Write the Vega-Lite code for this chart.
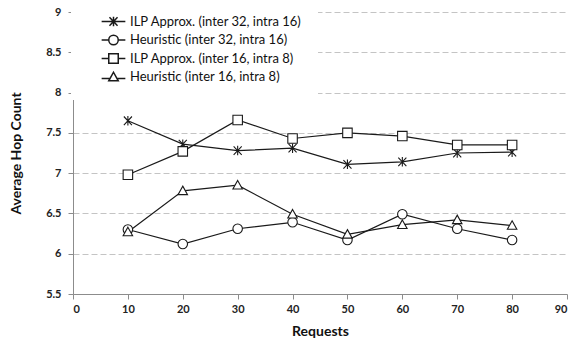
{
  "$schema": "https://vega.github.io/schema/vega-lite/v6.json",
  "width": 494,
  "height": 282,
  "autosize": {"type": "none"},
  "padding": {"left": 73, "top": 12, "right": 11, "bottom": 52},
  "background": "white",
  "config": {
    "font": "Lato",
    "view": {"stroke": null},
    "axis": {
      "domainColor": "#8c8c8c",
      "tickColor": "#8c8c8c",
      "labelFont": "Lato",
      "labelFontWeight": "bold",
      "labelFontSize": 11,
      "labelColor": "#222222",
      "titleFont": "Lato",
      "titleFontWeight": "bold",
      "titleFontSize": 14,
      "titleColor": "#111111",
      "tickSize": 5
    }
  },
  "data": {
    "values": [
      {"series": "ILP Approx. (inter 32, intra 16)", "requests": 10, "hops": 7.65},
      {"series": "ILP Approx. (inter 32, intra 16)", "requests": 20, "hops": 7.36},
      {"series": "ILP Approx. (inter 32, intra 16)", "requests": 30, "hops": 7.28},
      {"series": "ILP Approx. (inter 32, intra 16)", "requests": 40, "hops": 7.31},
      {"series": "ILP Approx. (inter 32, intra 16)", "requests": 50, "hops": 7.11},
      {"series": "ILP Approx. (inter 32, intra 16)", "requests": 60, "hops": 7.14},
      {"series": "ILP Approx. (inter 32, intra 16)", "requests": 70, "hops": 7.25},
      {"series": "ILP Approx. (inter 32, intra 16)", "requests": 80, "hops": 7.26},
      {"series": "Heuristic (inter 32, intra 16)", "requests": 10, "hops": 6.3},
      {"series": "Heuristic (inter 32, intra 16)", "requests": 20, "hops": 6.12},
      {"series": "Heuristic (inter 32, intra 16)", "requests": 30, "hops": 6.31},
      {"series": "Heuristic (inter 32, intra 16)", "requests": 40, "hops": 6.39},
      {"series": "Heuristic (inter 32, intra 16)", "requests": 50, "hops": 6.17},
      {"series": "Heuristic (inter 32, intra 16)", "requests": 60, "hops": 6.49},
      {"series": "Heuristic (inter 32, intra 16)", "requests": 70, "hops": 6.31},
      {"series": "Heuristic (inter 32, intra 16)", "requests": 80, "hops": 6.17},
      {"series": "ILP Approx. (inter 16, intra 8)", "requests": 10, "hops": 6.98},
      {"series": "ILP Approx. (inter 16, intra 8)", "requests": 20, "hops": 7.27},
      {"series": "ILP Approx. (inter 16, intra 8)", "requests": 30, "hops": 7.66},
      {"series": "ILP Approx. (inter 16, intra 8)", "requests": 40, "hops": 7.43},
      {"series": "ILP Approx. (inter 16, intra 8)", "requests": 50, "hops": 7.5},
      {"series": "ILP Approx. (inter 16, intra 8)", "requests": 60, "hops": 7.46},
      {"series": "ILP Approx. (inter 16, intra 8)", "requests": 70, "hops": 7.35},
      {"series": "ILP Approx. (inter 16, intra 8)", "requests": 80, "hops": 7.35},
      {"series": "Heuristic (inter 16, intra 8)", "requests": 10, "hops": 6.27},
      {"series": "Heuristic (inter 16, intra 8)", "requests": 20, "hops": 6.78},
      {"series": "Heuristic (inter 16, intra 8)", "requests": 30, "hops": 6.85},
      {"series": "Heuristic (inter 16, intra 8)", "requests": 40, "hops": 6.49},
      {"series": "Heuristic (inter 16, intra 8)", "requests": 50, "hops": 6.24},
      {"series": "Heuristic (inter 16, intra 8)", "requests": 60, "hops": 6.36},
      {"series": "Heuristic (inter 16, intra 8)", "requests": 70, "hops": 6.42},
      {"series": "Heuristic (inter 16, intra 8)", "requests": 80, "hops": 6.35}
    ]
  },
  "encoding": {
    "x": {
      "field": "requests",
      "type": "quantitative",
      "title": "Requests",
      "scale": {"domain": [0, 90], "nice": false, "zero": false},
      "axis": {"values": [0, 10, 20, 30, 40, 50, 60, 70, 80, 90], "grid": false, "labelPadding": 4, "titlePadding": 10}
    },
    "y": {
      "field": "hops",
      "type": "quantitative",
      "title": "Average Hop Count",
      "scale": {"domain": [5.5, 9], "nice": false, "zero": false},
      "axis": {
        "values": [5.5, 6, 6.5, 7, 7.5, 8, 8.5, 9],
        "format": "~g",
        "grid": true,
        "gridColor": "#c4c4c4",
        "gridDash": [6, 3],
        "labelPadding": 7,
        "titlePadding": 22
      }
    }
  },
  "layer": [
    {
      "mark": {"type": "line", "color": "#1a1a1a", "strokeWidth": 1.2},
      "encoding": {"detail": {"field": "series"}}
    },
    {
      "mark": {"type": "point", "filled": true, "fill": "white", "stroke": "#1a1a1a", "strokeWidth": 1.1, "size": 90, "opacity": 1},
      "encoding": {
        "shape": {
          "field": "series",
          "type": "nominal",
          "scale": {
            "domain": ["ILP Approx. (inter 32, intra 16)", "Heuristic (inter 32, intra 16)", "ILP Approx. (inter 16, intra 8)", "Heuristic (inter 16, intra 8)"],
            "range": ["M0,-1L0,1M-0.85,-0.9L0.85,0.9M-0.85,0.9L0.85,-0.9", "circle", "square", "M0,-1L1,0.8L-1,0.8Z"]
          },
          "legend": null
        }
      }
    },
    {
      "mark": {"type": "point", "filled": true, "fill": "white", "stroke": "#1a1a1a", "strokeWidth": 1.1, "size": 90, "opacity": 0},
      "encoding": {
        "shape": {
          "field": "series",
          "type": "nominal",
          "scale": {
            "domain": ["ILP Approx. (inter 32, intra 16)", "Heuristic (inter 32, intra 16)", "ILP Approx. (inter 16, intra 8)", "Heuristic (inter 16, intra 8)"],
            "range": [
              "M-2.5,0L2.5,0M0,-1L0,1M-0.85,-0.9L0.85,0.9M-0.85,0.9L0.85,-0.9",
              "M-2.5,0L-1,0M1,0L2.5,0M-1,0A1,1,0,1,1,1,0A1,1,0,1,1,-1,0Z",
              "M-2.5,0L-1,0M1,0L2.5,0M-1,-1L1,-1L1,1L-1,1Z",
              "M-2.5,0.3L-0.8,0.3M0.8,0.3L2.5,0.3M0,-1L1,0.8L-1,0.8Z"
            ]
          },
          "legend": {
            "title": null,
            "orient": "none",
            "legendX": -2,
            "legendY": -13,
            "padding": 16,
            "fillColor": "white",
            "symbolSize": 90,
            "symbolOffset": 20,
            "labelOffset": 10,
            "labelFont": "Lato",
            "labelFontSize": 13,
            "labelColor": "#111111",
            "labelLimit": 300,
            "rowPadding": 1.5,
            "encode": {
              "symbols": {
                "update": {
                  "opacity": {"value": 1},
                  "fill": {"value": "white"},
                  "stroke": {"value": "#1a1a1a"},
                  "strokeWidth": {"value": 1.1},
                  "fillOpacity": {"value": 1},
                  "strokeOpacity": {"value": 1}
                }
              }
            }
          }
        }
      }
    }
  ],
  "resolve": {"scale": {"shape": "independent"}, "legend": {"shape": "independent"}}
}
